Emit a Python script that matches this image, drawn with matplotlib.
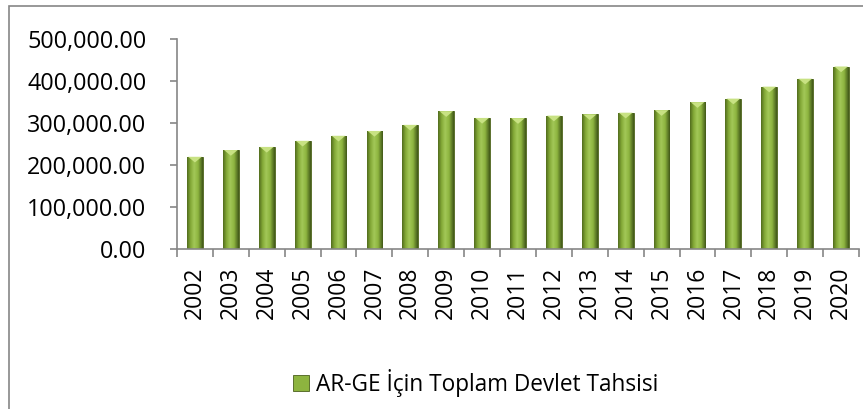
import numpy as np
import matplotlib
matplotlib.use("Agg")
import matplotlib.pyplot as plt
from matplotlib.colors import LinearSegmentedColormap
from matplotlib.patches import Rectangle
from matplotlib.ticker import FuncFormatter, FixedLocator

# Veriler
yillar = ["2002", "2003", "2004", "2005", "2006", "2007", "2008", "2009", "2010",
          "2011", "2012", "2013", "2014", "2015", "2016", "2017", "2018", "2019", "2020"]
tahsis = [220000, 236000, 243500, 258000, 270000, 281500, 296000, 328500, 312500,
          312000, 318000, 321000, 325000, 331000, 350000, 358500, 387000, 406000, 435000]
seri_adi = "AR-GE İçin Toplam Devlet Tahsisi"
y_ticks = [0, 100000, 200000, 300000, 400000, 500000]

plt.rcParams["font.family"] = ["Open Sans", "DejaVu Sans"]
gri = "#868686"

fig = plt.figure(figsize=(8.63, 4.09), dpi=100)
ax = fig.add_axes([0.2051, 0.3905, 0.7903, 0.5134])

x = np.arange(len(yillar))
bars = ax.bar(x, tahsis, width=0.44, color="#8DB43F", edgecolor="#4A601C",
              linewidth=0.6, zorder=2, label=seri_adi)

# bar uzerinde yatay gradyan
cmap = LinearSegmentedColormap.from_list(
    "yesil", [(0, "#526D1E"), (0.22, "#84A937"), (0.45, "#A3C858"),
              (0.7, "#8DB43F"), (1, "#415818")])
grad = np.linspace(0, 1, 64).reshape(1, -1)
for b in bars:
    bx, by = b.get_x(), b.get_y()
    im = ax.imshow(grad, cmap=cmap, aspect="auto", zorder=2.5,
                   extent=(bx, bx + b.get_width(), by, by + b.get_height()))
    im.set_clip_path(b)

# ust kisimdaki acik renkli ucgen (bar icinde)
ucgen = [(-1, 0.42), (1, 0.42), (0, -0.42), (-1, 0.42)]
ax.scatter(x, np.array(tahsis) - 6500, marker=ucgen, s=95, color="#C8E283",
           edgecolor="none", zorder=3)

ax.set_xlim(-0.5, len(yillar) - 0.5)
ax.set_ylim(0, 500000)

ax.spines["top"].set_visible(False)
ax.spines["right"].set_visible(False)
ax.spines["left"].set_color(gri)
ax.spines["bottom"].set_color(gri)
ax.spines["left"].set_linewidth(1.2)
ax.spines["bottom"].set_linewidth(1.2)

ax.yaxis.set_major_locator(FixedLocator(y_ticks))
ax.yaxis.set_major_formatter(FuncFormatter(lambda v, p: f"{v:,.2f}"))
ax.tick_params(axis="y", direction="out", length=5, width=1.2, color=gri,
               pad=17, labelsize=16.8, labelcolor="black")

ax.set_xticks(x)
ax.set_xticklabels(yillar, rotation=90)
ax.set_xticks(np.arange(len(yillar) + 1) - 0.5, minor=True)
ax.tick_params(axis="x", which="major", length=0, pad=12.5, labelsize=16.5)
ax.tick_params(axis="x", which="minor", direction="out", length=6, width=1.2, color=gri)

# cerceve
fig.patches.append(Rectangle((9 / 863, -0.5), 2, 0.5 + 1 - 6 / 409,
                             transform=fig.transFigure, fill=False,
                             edgecolor=gri, linewidth=1.2))

fig.legend(handles=[bars], labels=[seri_adi], loc="center",
           bbox_to_anchor=(0.551, 0.064), frameon=False, fontsize=16.3,
           handlelength=0.7, handleheight=0.7, handletextpad=0.3)

fig.savefig("out.png", dpi=100)
